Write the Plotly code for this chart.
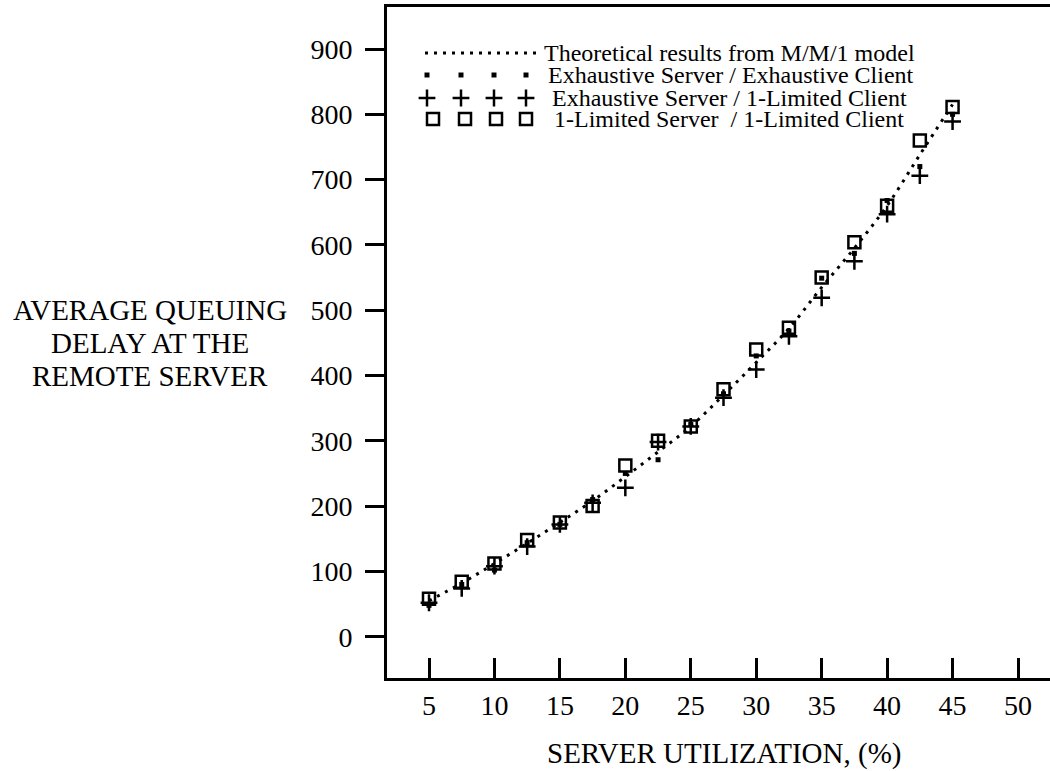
import plotly.graph_objects as go

# ---------------- data ----------------
utilization = [5, 7.5, 10, 12.5, 15, 17.5, 20, 22.5, 25, 27.5, 30, 32.5, 35, 37.5, 40, 42.5, 45]
theory_mm1 = [55, 82, 112, 143, 175, 208, 245, 283, 322, 370, 420, 472, 535, 595, 660, 738, 815]
exh_server_exh_client = [48, 80, 102, 144, 172, 210, 250, 271, 325, 372, 430, 468, 549, 587, 668, 720, 800]
exh_server_1lim_client = [52, 74, 108, 138, 172, 205, 228, 298, 322, 366, 409, 460, 519, 575, 647, 706, 789]
lim_server_lim_client = [58, 84, 112, 148, 175, 200, 262, 300, 322, 379, 440, 473, 550, 604, 660, 760, 811]

x_ticks = [5, 10, 15, 20, 25, 30, 35, 40, 45, 50]
y_ticks = [0, 100, 200, 300, 400, 500, 600, 700, 800, 900]

legend_labels = [
    "Theoretical results from M/M/1 model",
    "Exhaustive Server / Exhaustive Client",
    "Exhaustive Server / 1-Limited Client",
    "1-Limited Server  / 1-Limited Client",
]
x_title = "SERVER UTILIZATION, (%)"
y_title_lines = ["AVERAGE QUEUING", "DELAY AT THE", "REMOTE SERVER"]

# ---------------- layout constants (pixels) ----------------
W, H = 1050, 771
L, T, B = 387, 7, 678          # plot area left / top / bottom
X5_PX, X50_PX = 429, 1018      # pixel position of x=5 and x=50
Y0_PX, Y900_PX = 636.7, 49     # pixel position of y=0 and y=900

kx = (X50_PX - X5_PX) / 45.0
ky = (Y0_PX - Y900_PX) / 900.0
x_range = [5 - (X5_PX - L) / kx, 50 + (W - X50_PX) / kx]
y_range = [-(B - Y0_PX) / ky, (Y0_PX - T) / ky]

FONT = "Liberation Serif, Times New Roman, serif"
BLACK = "#000000"

dot_marker = dict(symbol="square", size=5, color=BLACK)
plus_marker = dict(symbol="cross-thin-open", size=12, color=BLACK, line=dict(width=2.5, color=BLACK))
sq_marker = dict(symbol="square-open", size=12, color=BLACK, line=dict(width=2.5, color=BLACK))
dot_line = dict(color=BLACK, width=3, dash="3px,6px")

fig = go.Figure()

fig.add_trace(go.Scatter(x=utilization, y=theory_mm1, mode="lines", line=dot_line,
                         line_shape="spline", showlegend=False))
fig.add_trace(go.Scatter(x=utilization, y=exh_server_exh_client, mode="markers",
                         marker=dot_marker, showlegend=False))
fig.add_trace(go.Scatter(x=utilization, y=exh_server_1lim_client, mode="markers",
                         marker=plus_marker, showlegend=False))
fig.add_trace(go.Scatter(x=utilization, y=lim_server_lim_client, mode="markers",
                         marker=sq_marker, showlegend=False))

# ---------------- custom legend (pixel overlay axes) ----------------
leg_rows = [53, 75, 98, 119]
leg_marks = [[427, 461, 494, 526], [427, 461, 494, 526], [433, 465, 496, 526]]
leg_line = [425, 538]
leg_text_x = [542, 546, 550, 552]

fig.add_trace(go.Scatter(x=leg_line, y=[leg_rows[0]] * 2, mode="lines", line=dot_line,
                         xaxis="x2", yaxis="y2", showlegend=False, hoverinfo="skip"))
for row, xs, mk in zip(leg_rows[1:], leg_marks, [dot_marker, plus_marker, sq_marker]):
    fig.add_trace(go.Scatter(x=xs, y=[row] * len(xs), mode="markers", marker=mk,
                             xaxis="x2", yaxis="y2", showlegend=False, hoverinfo="skip"))
for row, tx, lab in zip(leg_rows, leg_text_x, legend_labels):
    fig.add_annotation(x=tx, y=row, xref="x2", yref="y2", text=lab, showarrow=False,
                       xanchor="left", yanchor="middle", font=dict(family=FONT, size=24, color=BLACK))

# ---------------- axis titles ----------------
def px_to_paper_x(px):
    return (px - L) / (W - L)

def px_to_paper_y(py):
    return (B - py) / (B - T)

for py, line in zip([310, 343, 376], y_title_lines):
    fig.add_annotation(x=px_to_paper_x(150), y=px_to_paper_y(py), xref="paper", yref="paper",
                       text=line, showarrow=False, xanchor="center", yanchor="middle",
                       font=dict(family=FONT, size=29, color=BLACK))
fig.add_annotation(x=px_to_paper_x(724), y=px_to_paper_y(753), xref="paper", yref="paper",
                   text=x_title, showarrow=False, xanchor="center", yanchor="middle",
                   font=dict(family=FONT, size=29, color=BLACK))

fig.update_layout(
    width=W, height=H,
    margin=dict(l=L, r=0, t=T, b=H - B, pad=0),
    paper_bgcolor="white", plot_bgcolor="white",
    font=dict(family=FONT, size=28, color=BLACK),
    showlegend=False,
    xaxis=dict(range=x_range, tickvals=x_ticks, ticktext=[str(v) for v in x_ticks],
               showline=True, linewidth=3, linecolor=BLACK, mirror=True,
               ticks="inside", ticklen=20, tickwidth=3, tickcolor=BLACK,
               showgrid=False, zeroline=False, tickfont=dict(family=FONT, size=28, color=BLACK)),
    yaxis=dict(range=y_range, tickvals=y_ticks, ticktext=[str(v) for v in y_ticks],
               showline=True, linewidth=3, linecolor=BLACK,
               ticks="outside", ticklen=19, tickwidth=3, tickcolor=BLACK, ticklabelstandoff=7,
               showgrid=False, zeroline=False, tickfont=dict(family=FONT, size=28, color=BLACK)),
    xaxis2=dict(range=[L, W], overlaying="x", visible=False, domain=[0, 1]),
    yaxis2=dict(range=[B, T], overlaying="y", visible=False, domain=[0, 1]),
)

fig.write_html("out.html")
